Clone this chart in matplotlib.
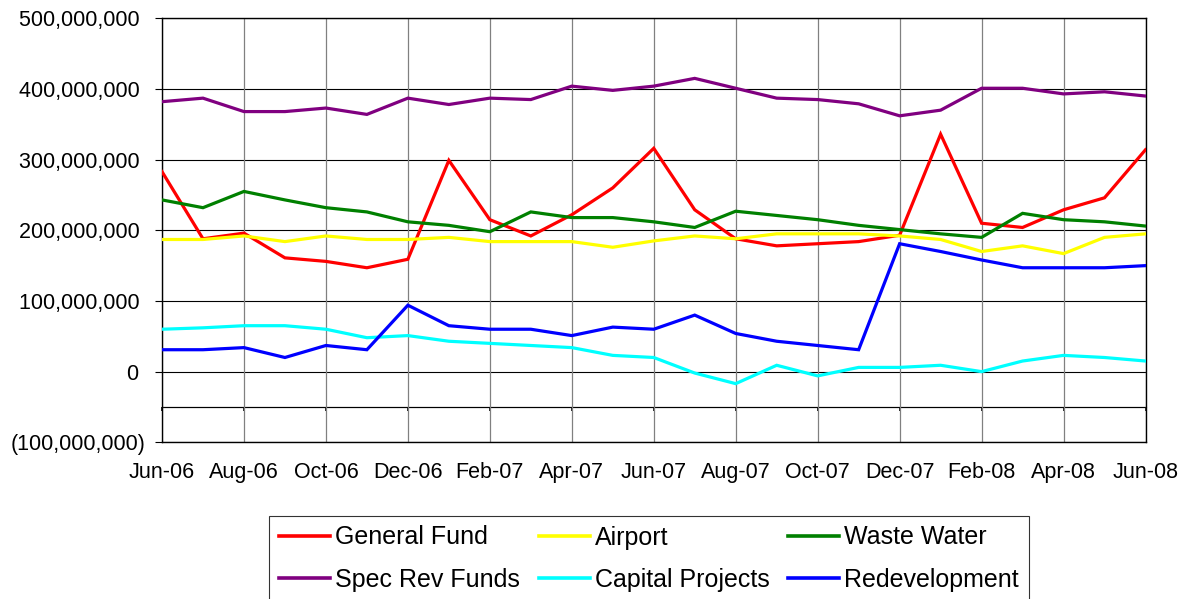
import numpy as np
import matplotlib.pyplot as plt
from matplotlib.ticker import FuncFormatter

# months Jun-06 .. Jun-08
months = ['Jun-06', 'Jul-06', 'Aug-06', 'Sep-06', 'Oct-06', 'Nov-06', 'Dec-06',
          'Jan-07', 'Feb-07', 'Mar-07', 'Apr-07', 'May-07', 'Jun-07',
          'Jul-07', 'Aug-07', 'Sep-07', 'Oct-07', 'Nov-07', 'Dec-07',
          'Jan-08', 'Feb-08', 'Mar-08', 'Apr-08', 'May-08', 'Jun-08']

# values in millions
general_fund = [283, 188, 196, 161, 156, 147, 159, 299, 215, 192, 222, 260, 316,
                229, 188, 178, 181, 184, 193, 336, 210, 204, 229, 246, 314]
airport = [187, 187, 192, 184, 192, 187, 187, 190, 184, 184, 184, 176, 185,
           192, 188, 195, 195, 195, 192, 187, 170, 178, 167, 190, 195]
waste_water = [243, 232, 255, 243, 232, 226, 212, 207, 198, 226, 218, 218, 212,
               204, 227, 221, 215, 207, 201, 195, 190, 224, 215, 212, 206]
spec_rev = [382, 387, 368, 368, 373, 364, 387, 378, 387, 385, 404, 398, 404,
            415, 401, 387, 385, 379, 362, 370, 401, 401, 393, 396, 390]
capital_projects = [60, 62, 65, 65, 60, 48, 51, 43, 40, 37, 34, 23, 20,
                    -2, -17, 9, -6, 6, 6, 9, 0, 15, 23, 20, 15]
redevelopment = [31, 31, 34, 20, 37, 31, 94, 65, 60, 60, 51, 63, 60,
                 80, 54, 43, 37, 31, 181, 170, 158, 147, 147, 147, 150]

series = [
    ('General Fund', general_fund, '#FF0000'),
    ('Airport', airport, '#FFFF00'),
    ('Waste Water', waste_water, '#008000'),
    ('Spec Rev Funds', spec_rev, '#800080'),
    ('Capital Projects', capital_projects, '#00FFFF'),
    ('Redevelopment', redevelopment, '#0000FF'),
]

plt.rcParams['font.family'] = ['Liberation Sans', 'DejaVu Sans']

fig = plt.figure(figsize=(11.84, 5.99), dpi=100)
ax = fig.add_axes([162 / 1184, 1 - 442.3 / 599, 983.5 / 1184, 424 / 599])

x = np.arange(len(months))
handles = {}
for name, vals, color in series:
    h, = ax.plot(x, np.array(vals) * 1e6, color=color, lw=2.3,
                 solid_joinstyle='miter', zorder=3, label=name)
    handles[name] = h

ax.set_xlim(0, len(months) - 1)
ax.set_ylim(-100e6, 500e6)
ax.set_yticks(np.arange(-100e6, 500e6 + 1, 100e6))
ax.set_xticks(x[::2])
ax.set_xticklabels(months[::2])


def money(v, pos):
    if v < 0:
        return f'({-v:,.0f})'
    return f'{v:,.0f} '


ax.yaxis.set_major_formatter(FuncFormatter(money))
ax.tick_params(axis='y', direction='out', length=5, width=0.8, pad=7, labelsize=15.5)
ax.tick_params(axis='x', length=0, pad=14, labelsize=15.5)

for v in np.arange(-100e6, 500e6 + 1, 100e6):
    ax.axhline(v, color='black', lw=0.8, zorder=1)
ax.axhline(-50e6, color='black', lw=0.8, zorder=1)
for xi in x[::2]:
    ax.axvline(xi, color='#808080', lw=0.9, zorder=1)

# category axis crossing at -50,000,000 with its tick marks
sec = ax.secondary_xaxis(50e6 / 600e6)
sec.set_xticks(x[::2])
sec.set_xticklabels([])
sec.tick_params(direction='out', length=3, width=1.2, color='black')
sec.spines['bottom'].set_linewidth(0.8)

for sp in ax.spines.values():
    sp.set_color('black')
    sp.set_linewidth(1.0)

order = ['General Fund', 'Spec Rev Funds', 'Airport', 'Capital Projects',
         'Waste Water', 'Redevelopment']
leg = fig.legend([handles[n] for n in order], order, ncol=3,
                 loc='upper left', bbox_to_anchor=(269 / 1184, 1 - 515.5 / 599),
                 fontsize=18, frameon=True, fancybox=False, borderpad=0.4,
                 handlelength=2.04, handletextpad=0.2, columnspacing=0.75,
                 labelspacing=0.72, borderaxespad=0)
leg.get_frame().set_edgecolor('black')
leg.get_frame().set_linewidth(0.8)
for line in leg.get_lines():
    line.set_linewidth(2.6)

fig.savefig('out.png', dpi=100)
